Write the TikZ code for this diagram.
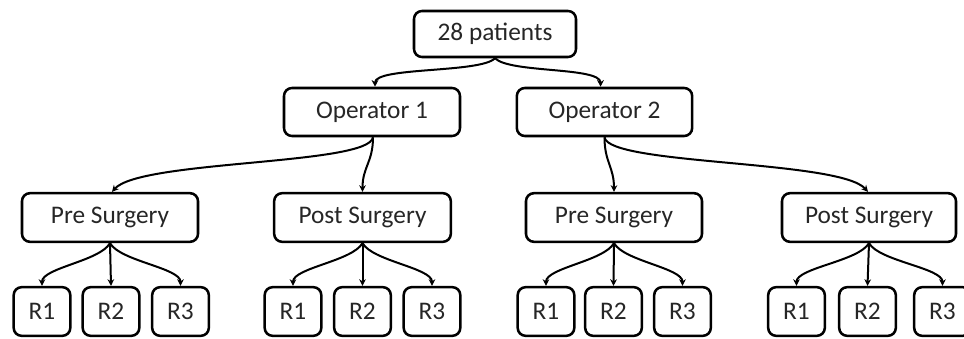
\documentclass[tikz,border=0pt]{standalone}
\usepackage{fontspec}
\setmainfont{Carlito}
\usetikzlibrary{arrows.meta}
\tikzset{
  box/.style={draw=black, line width=1.9pt, rounded corners=6pt, inner sep=0pt,
    font=\fontsize{19pt}{22pt}\selectfont, text=black!85},
  conn/.style={line width=1.5pt, -{Stealth[length=5pt,width=5pt]}},
}
\begin{document}
\begin{tikzpicture}[x=0.75pt,y=-0.75pt]
\useasboundingbox (0,0) rectangle (964,339);
% level 0
\node[box, minimum width=121.5pt, minimum height=34.5pt] (top) at (495,34) {28 patients};
% level 1
\node[box, minimum width=132pt, minimum height=36pt] (op1) at (372,112) {Operator 1};
\node[box, minimum width=131.5pt, minimum height=36pt] (op2) at (604.5,112) {Operator 2};
% level 2
\node[box, minimum width=132pt, minimum height=36.5pt] (pre1) at (110,217.5) {Pre Surgery};
\node[box, minimum width=132.5pt, minimum height=36.5pt] (post1) at (362.5,217.5) {Post Surgery};
\node[box, minimum width=132pt, minimum height=36.5pt] (pre2) at (614,217.5) {Pre Surgery};
\node[box, minimum width=130.5pt, minimum height=36.5pt] (post2) at (869,217.5) {Post Surgery};
% level 3
\tikzset{rbox/.style={box, minimum width=42.5pt, minimum height=36.5pt}}
\node[rbox] (a1) at (42,311.5) {R1};
\node[rbox] (a2) at (111,311.5) {R2};
\node[rbox] (a3) at (180.5,311.5) {R3};
\node[rbox] (b1) at (293,311.5) {R1};
\node[rbox] (b2) at (362.5,311.5) {R2};
\node[rbox] (b3) at (432,311.5) {R3};
\node[rbox] (c1) at (546,311.5) {R1};
\node[rbox] (c2) at (613.5,311.5) {R2};
\node[rbox] (c3) at (682.5,311.5) {R3};
\node[rbox] (d1) at (796.5,311.5) {R1};
\node[rbox] (d2) at (867.5,311.5) {R2};
\node[rbox] (d3) at (942.5,311.5) {R3};
% connectors
\draw[conn] (top.south) .. controls +(-15,15) and +(0,-20) .. ([xshift=2.25pt]op1.north);
\draw[conn] (top.south) .. controls +(15,15) and +(0,-20) .. ([xshift=-3pt]op2.north);
\draw[conn] ([xshift=0.75pt]op1.south) .. controls +(-4,28) and +(28,-32) .. ([xshift=1.5pt]pre1.north);
\draw[conn] ([xshift=0.75pt]op1.south) .. controls +(0,25) and +(0,-25) .. (post1.north);
\draw[conn] (op2.south) .. controls +(0,25) and +(0,-25) .. (pre2.north);
\draw[conn] (op2.south) .. controls +(4,28) and +(-28,-32) .. ([xshift=-0.75pt]post2.north);
\foreach \p/\l/\m/\r in {pre1/a1/a2/a3, post1/b1/b2/b3, pre2/c1/c2/c3, post2/d1/d2/d3}{
  \draw[conn] (\p.south) .. controls +(-10,18) and +(0,-18) .. (\l.north);
  \draw[conn] (\p.south) -- (\m.north);
  \draw[conn] (\p.south) .. controls +(10,18) and +(0,-18) .. (\r.north);
}
\end{tikzpicture}
\end{document}
